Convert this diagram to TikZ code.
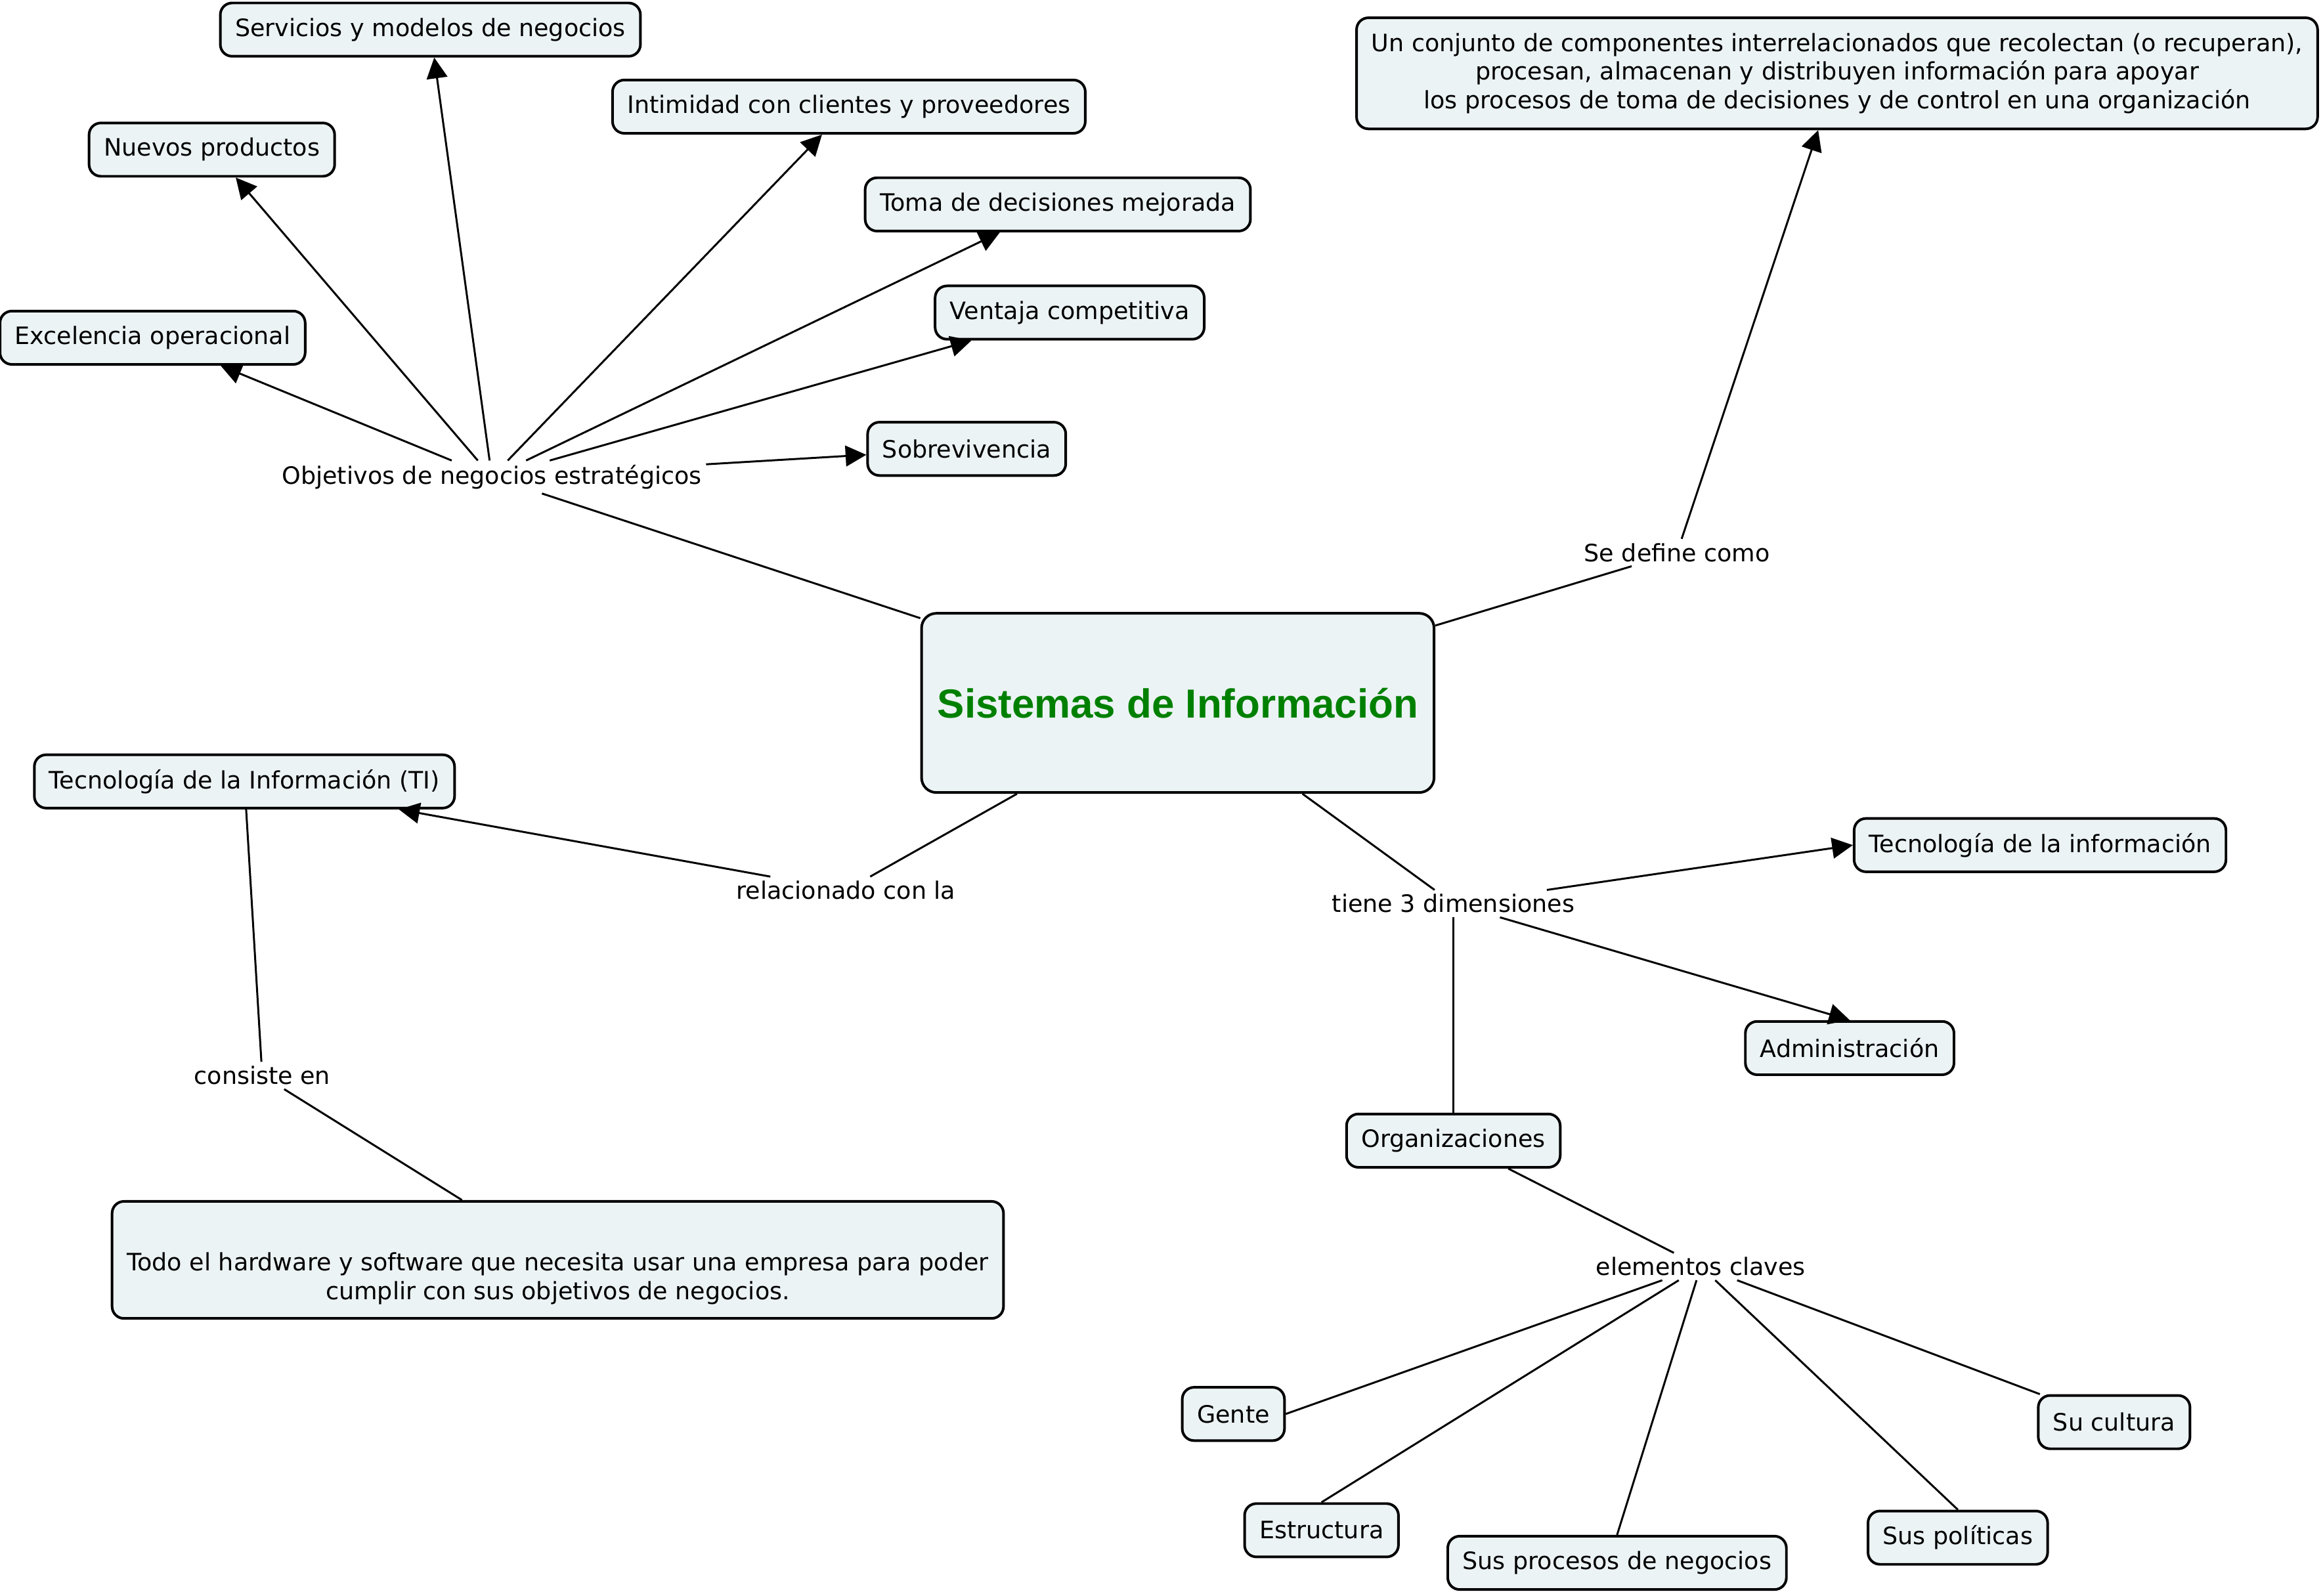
\documentclass[tikz,border=0pt]{standalone}
\usepackage{fontspec}
\setmainfont{DejaVu Sans}
\newfontfamily\titlefont{Liberation Sans}
\usetikzlibrary{arrows.meta}
\definecolor{cmapfill}{RGB}{236,243,245}
\definecolor{cmapgreen}{RGB}{0,128,0}

\begin{document}
\begin{tikzpicture}[
    x=0.02cm, y=-0.02cm,
    concept/.style={draw, line width=1pt, fill=cmapfill, rounded corners=0.16cm, minimum height=0.72cm,
      inner xsep=0.2cm, font=\fontsize{9.2}{11}\selectfont, align=center},
    link/.style={fill=white, inner sep=1.5pt, font=\fontsize{9.2}{11}\selectfont},
    line/.style={line width=0.75pt},
    arr/.style={line, -{Triangle[length=0.28cm, width=0.28cm]}},
  ]
    \useasboundingbox (0,0) rectangle (1568,1077);

    % Central concept
    \node[concept, minimum width=6.92cm, minimum height=2.42cm, rounded corners=0.2cm,
      font=\fontsize{15.6}{18}\selectfont\titlefont\bfseries, text=cmapgreen] (si) at (795,474.5) {Sistemas de Información};

    % Strategic goals
    \node[concept] (serv)   at (290.5,20)  {Servicios y modelos de negocios};
    \node[concept] (intim)  at (573,72)    {Intimidad con clientes y proveedores};
    \node[concept] (nuevos) at (143,101)   {Nuevos productos};
    \node[concept] (toma)   at (714,138)   {Toma de decisiones mejorada};
    \node[concept] (venta)  at (722,211)   {Ventaja competitiva};
    \node[concept] (excel)  at (103,228)   {Excelencia operacional};
    \node[concept] (sobre)  at (652.5,303) {Sobrevivencia};

    % Definition
    \node[concept, minimum height=1.5cm] (def) at (1240,49.5)
      {Un conjunto de componentes interrelacionados que recolectan (o recuperan),\\
       procesan, almacenan y distribuyen información para apoyar\\
       los procesos de toma de decisiones y de control en una organización};

    % IT
    \node[concept] (ti) at (165,527.5) {Tecnología de la Información (TI)};
    \node[concept, minimum width=12.02cm, minimum height=1.58cm] (hw) at (376.5,850.5)
      {\mbox{}\\[0.36cm]Todo el hardware y software que necesita usar una empresa para poder\\
       cumplir con sus objetivos de negocios.};

    % Dimensions
    \node[concept] (tecinf) at (1377,570.5)  {Tecnología de la información};
    \node[concept] (admin)  at (1248.5,707.5) {Administración};
    \node[concept] (org)    at (981,770)     {Organizaciones};
    \node[concept] (gente)  at (832.5,954.5) {Gente};
    \node[concept] (cult)   at (1427,960)    {Su cultura};
    \node[concept] (estr)   at (892,1033)    {Estructura};
    \node[concept] (proc)   at (1091.5,1055) {Sus procesos de negocios};
    \node[concept] (polit)  at (1321.5,1038) {Sus políticas};

    % Linking phrases
    \node[link] (obj)   at (332,322)  {Objetivos de negocios estratégicos};
    \node[link] (sedef) at (1132,373) {Se define como};
    \node[link] (rel)   at (571,601)  {relacionado con la};
    \node[link] (tiene) at (981,610)  {tiene 3 dimensiones};
    \node[link] (cons)  at (177,726)  {consiste en};
    \node[link] (elem)  at (1148,855) {elementos claves};

    % Connections
    \draw[line] (si) -- (obj);
    \draw[arr] (obj) -- (excel);
    \draw[arr] (obj) -- (nuevos);
    \draw[arr] (obj) -- (serv);
    \draw[arr] (obj) -- (intim);
    \draw[arr] (obj) -- (toma);
    \draw[arr] (obj) -- (venta);
    \draw[arr] (obj) -- (sobre);

    \draw[line] (si) -- (sedef);
    \draw[arr] (sedef) -- (def);

    \draw[line] (si) -- (rel);
    \draw[arr] (rel) -- (ti);
    \draw[line] (ti) -- (cons);
    \draw[line] (cons) -- (hw);

    \draw[line] (si) -- (tiene);
    \draw[arr] (tiene) -- (tecinf.west);
    \draw[arr] (tiene) -- (admin.north);
    \draw[line] (tiene) -- (org);
    \draw[line] (org) -- (elem);
    \draw[line] (elem) -- (gente.east);
    \draw[line] (elem) -- (estr.north);
    \draw[line] (elem) -- (proc.north);
    \draw[line] (elem) -- (polit.north);
    \draw[line] (elem) -- (cult);
\end{tikzpicture}
\end{document}
